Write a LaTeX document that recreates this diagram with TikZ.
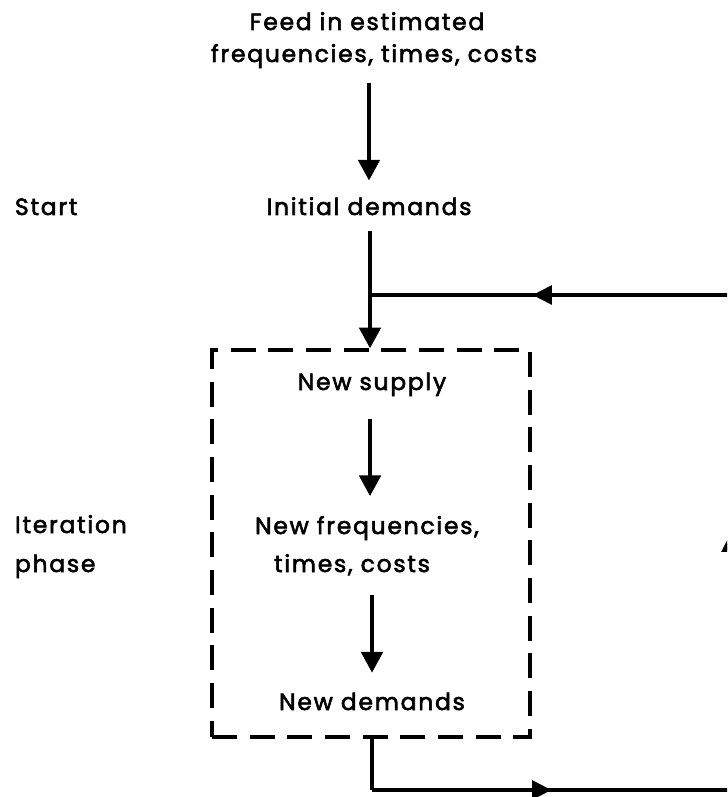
\documentclass[tikz,border=0pt]{standalone}
\usepackage{fontspec}
\newfontfamily\chartfont{Poppins}[LetterSpace=7.5, FakeBold=2.5]
\usetikzlibrary{arrows.meta,decorations.markings}

\tikzset{
  lbl/.style={font=\chartfont\fontsize{20}{27}\selectfont, inner sep=0pt, outer sep=0pt, anchor=base},
  flow/.style={line width=3.3pt, -{Triangle[length=0.62cm,width=0.64cm]}},
  wire/.style={line width=3.1pt},
  midarrow/.style={postaction=decorate, decoration={markings,
      mark=at position #1 with {\arrow{Triangle[length=0.58cm,width=0.56cm]}}}},
  phasebox/.style={draw, line width=2.9pt, dash pattern=on 0.75cm off 0.38cm,
      minimum width=9.54cm, minimum height=11.61cm, inner sep=0pt}
}

\begin{document}
\begin{tikzpicture}[x=0.03cm, y=-0.03cm]
  \useasboundingbox (0,0) rectangle (727,797);
  \clip (0,0) rectangle (727,797);

  % text of the flow chart
  \node[lbl] (feed) at (367,30) {Feed in estimated};
  \node[lbl] (feed2) at (374,62) {frequencies, times, costs};
  \node[lbl] (init) at (369,215) {Initial demands};
  \node[lbl, anchor=base west] (start) at (15,215) {Start};

  % iteration loop
  \node[phasebox] (box) at (371,543.5) {};
  \node[lbl] (supply) at (372,390) {New supply};
  \node[lbl] (freq) at (367,534) {New frequencies,};
  \node[lbl] (freq2) at (352,572) {times, costs};
  \node[lbl] (dem) at (372,710) {New demands};
  \node[lbl, anchor=base west] (iter) at (15,533) {Iteration};
  \node[lbl, anchor=base west] (iter2) at (15,572) {phase};

  % feedback corners
  \coordinate (join) at (370,295);
  \coordinate (rtop) at (731,295);
  \coordinate (rbot) at (731,790);
  \coordinate (bout) at (372,790);

  % downward flow
  \draw[flow, shorten <=0.45cm, shorten >=0.5cm] (feed2.south -| init) -- (init);
  \draw[wire] (init.south -| join) ++(0,16) -- (join);
  \draw[flow] (join) -- (join |- box.north);
  \draw[flow, shorten <=0.7cm, shorten >=0.6cm] (supply.south -| join) -- (freq.north -| join);
  \draw[flow, shorten <=0.6cm, shorten >=0.6cm] (freq2.south -| dem) -- (dem.north -| dem);

  % return path
  \draw[wire] (box.south -| bout) -- (bout);
  \draw[wire, midarrow=0.5] (bout) -- (rbot);
  \draw[wire, midarrow=0.52] (rbot) -- (rtop);
  \draw[wire, midarrow=0.55] (rtop) -- (join);
\end{tikzpicture}
\end{document}
